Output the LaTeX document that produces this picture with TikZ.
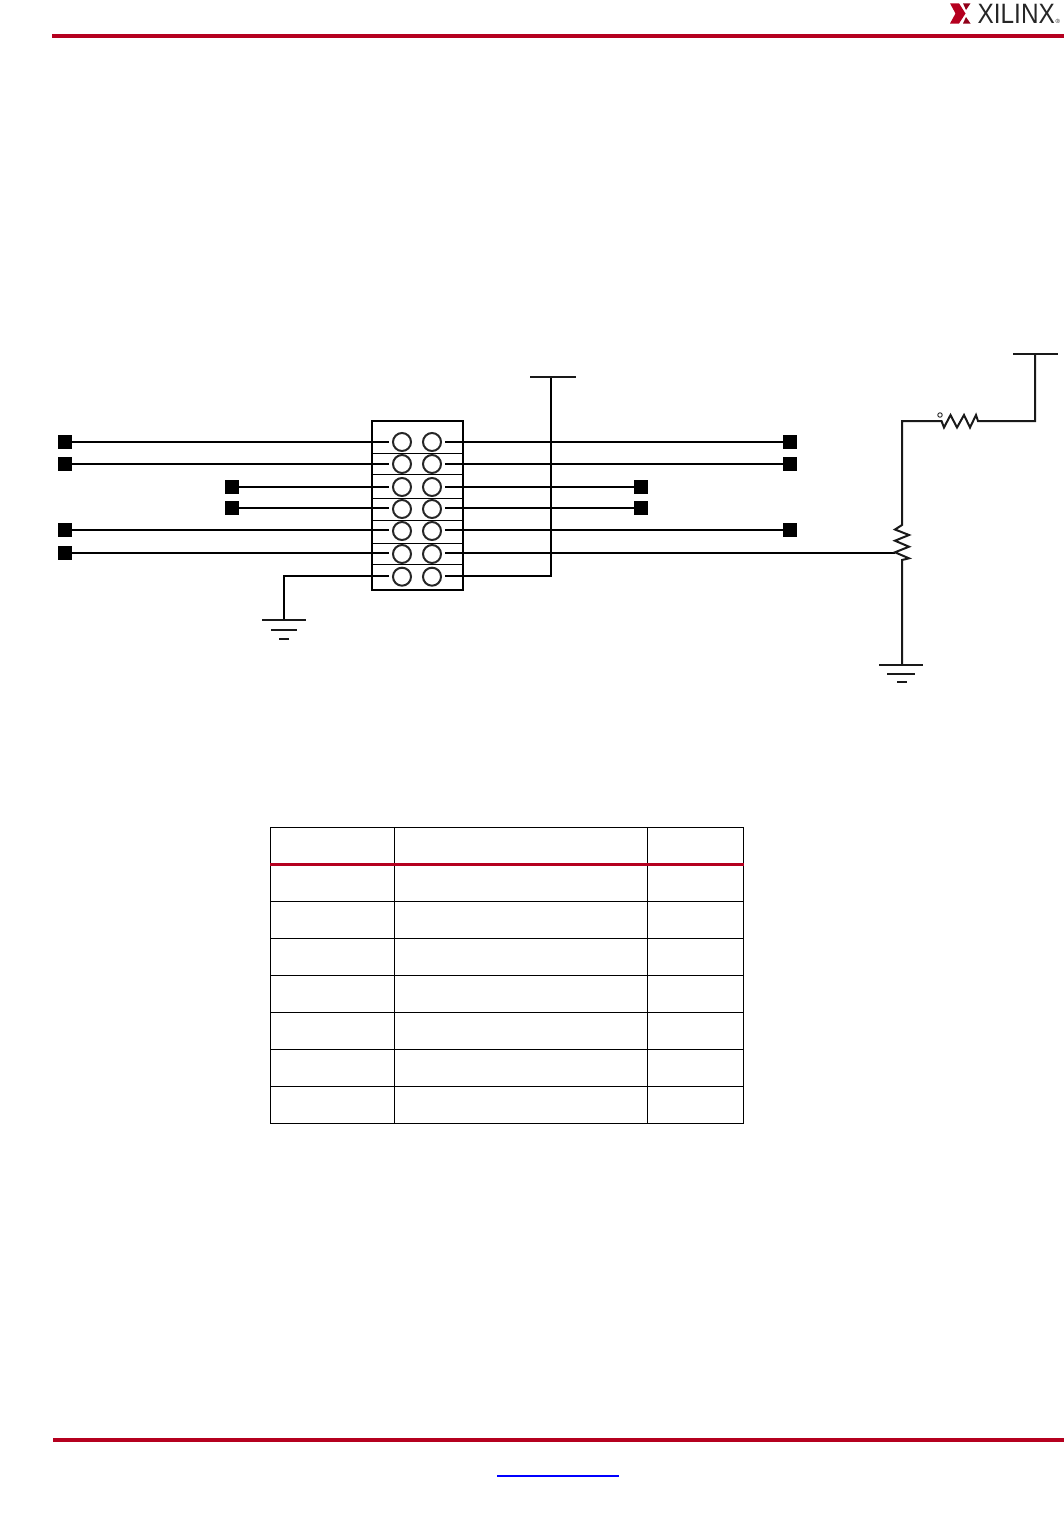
\documentclass[tikz,border=0pt]{standalone}
\usepackage{fontspec}
\setmainfont{Liberation Sans}
\definecolor{xred}{HTML}{B5001F}
\tikzset{
  wire/.style={line width=2pt,black},
  thinwire/.style={line width=1pt,black},
  rail/.style={line width=2pt,black!90},
  pad/.style={draw=none,fill=black,minimum size=14pt,inner sep=0pt,outer sep=0pt},
  pin/.style={circle,draw=black!85,line width=2pt,minimum size=18pt,inner sep=0pt,outer sep=4pt},
  tab/.style={line width=1.1pt,black}
}
\begin{document}
\begin{tikzpicture}[x=1pt,y=-1pt]
\useasboundingbox (0,0) rectangle (1064,1516);
% page rules
\draw[line width=4pt,xred] (52,35.5)--(1064,35.5);
\draw[line width=4pt,xred] (53,1440)--(1064,1440);
\draw[line width=1.4pt,blue] (497,1476)--(619,1476);
% logo
\fill[xred] (950,3.3)--(959,3.3)--(965.5,13.5)--(959,23.5)--(950,23.5)--(955.5,13.5)--cycle;
\fill[xred!80!black] (963,3.3)--(970.5,3.3)--(966,10)--cycle;
\fill[xred!80!black] (963,23.5)--(970.5,23.5)--(966,17)--cycle;
\node[anchor=west,inner sep=0pt,text=black!85,xscale=0.87,transform shape] (logo) at (977.5,13.5) {\fontsize{28}{28}\selectfont XILINX};
\node[anchor=south west,inner sep=0pt,text=black!85] (reg) at (1055.5,24) {\fontsize{6}{6}\selectfont ®};
% header box
\draw[wire] (372,421) rectangle (463,590);
\draw[thinwire] (372,453.3)--(463,453.3);
\draw[thinwire] (372,474.3)--(463,474.3);
\draw[thinwire] (372,498.3)--(463,498.3);
\draw[thinwire] (372,520)--(463,520);
\draw[thinwire] (372,543.3)--(463,543.3);
\draw[thinwire] (372,564.3)--(463,564.3);
% pins
\node[pin] (A1) at (402,442) {};
\node[pin] (B1) at (432,442) {};
\node[pin] (A2) at (402,464) {};
\node[pin] (B2) at (432,464) {};
\node[pin] (A3) at (402,487) {};
\node[pin] (B3) at (432,487) {};
\node[pin] (A4) at (402,509) {};
\node[pin] (B4) at (432,509) {};
\node[pin] (A5) at (402,531) {};
\node[pin] (B5) at (432,531) {};
\node[pin] (A6) at (402,554) {};
\node[pin] (B6) at (432,554) {};
\node[pin] (A7) at (402,576.7) {};
\node[pin] (B7) at (432,576.7) {};
% pads
\node[pad] (L1) at (65,442) {};
\node[pad] (L2) at (65,463.7) {};
\node[pad] (L3) at (232,486.8) {};
\node[pad] (L4) at (232,508) {};
\node[pad] (L5) at (65,529.8) {};
\node[pad] (L6) at (65,552.8) {};
\node[pad] (R1) at (790,442) {};
\node[pad] (R2) at (790,463.5) {};
\node[pad] (R3) at (641,486.8) {};
\node[pad] (R4) at (641,508) {};
\node[pad] (R5) at (790,529.8) {};
% wires
\draw[wire] (L1)--(L1-|A1.west);\draw[wire] (B1.east|-R1)--(R1);
\draw[wire] (L2)--(L2-|A2.west);\draw[wire] (B2.east|-R2)--(R2);
\draw[wire] (L3)--(L3-|A3.west);\draw[wire] (B3.east|-R3)--(R3);
\draw[wire] (L4)--(L4-|A4.west);\draw[wire] (B4.east|-R4)--(R4);
\draw[wire] (L5)--(L5-|A5.west);\draw[wire] (B5.east|-R5)--(R5);
\draw[wire] (L6)--(L6-|A6.west);
% supply and ground of the header
\coordinate (V1) at (551,377);
\coordinate (G1) at (284,620);
\coordinate (W1) at (895,552.8);
\coordinate (M1) at (402,575.7);
\draw[wire] (B6.east|-W1)--(W1);
\draw[wire] (M1-|A7.west)-|(G1);
\draw[wire] (M1-|B7.east)-|(V1);
\draw[rail] (530,377)--(576,377);
\draw[rail] (262,620)--(306,620);
\draw[rail] (271,630)--(297,630);
\draw[rail] (279,638.5)--(289,638.5);
% resistors
\coordinate (V2) at (1035,354);
\coordinate (G2) at (902,665);
\coordinate (T1) at (902,421);
\coordinate (C1) at (902,525);
\coordinate (C2) at (902,560);
\coordinate (D1) at (941.5,421);
\coordinate (D2) at (978,421);
\draw[rail,line join=miter] (V2)|-(D2)--(976,415)--(970,427.5)--(964,415)--(957,427.5)--(950.5,415)--(944,427.5)--(D1)--(T1)--(C1)--(895,529.5)--(909,535)--(895,540.7)--(909,546.7)--(895,552.3)--(909,558.3)--(C2)--(G2);
\node[circle,draw=black!85,line width=0.9pt,minimum size=4.5pt,inner sep=0pt] (S1) at (940,415) {};
\draw[rail] (1013,354)--(1058,354);
\draw[rail] (879,665)--(923,665);
\draw[rail] (887,673.5)--(915,673.5);
\draw[rail] (897,682)--(907,682);
% table
\draw[tab] (270.5,827.5) rectangle (743.5,1123.5);
\draw[tab] (394.5,827.5)--(394.5,1123.5);
\draw[tab] (647.5,827.5)--(647.5,1123.5);
\draw[tab] (270.5,901.5)--(743.5,901.5);
\draw[tab] (270.5,938.5)--(743.5,938.5);
\draw[tab] (270.5,975.5)--(743.5,975.5);
\draw[tab] (270.5,1012.5)--(743.5,1012.5);
\draw[tab] (270.5,1049.5)--(743.5,1049.5);
\draw[tab] (270.5,1086.5)--(743.5,1086.5);
\draw[line width=3pt,xred] (270,864.5)--(744,864.5);
\end{tikzpicture}
\end{document}
